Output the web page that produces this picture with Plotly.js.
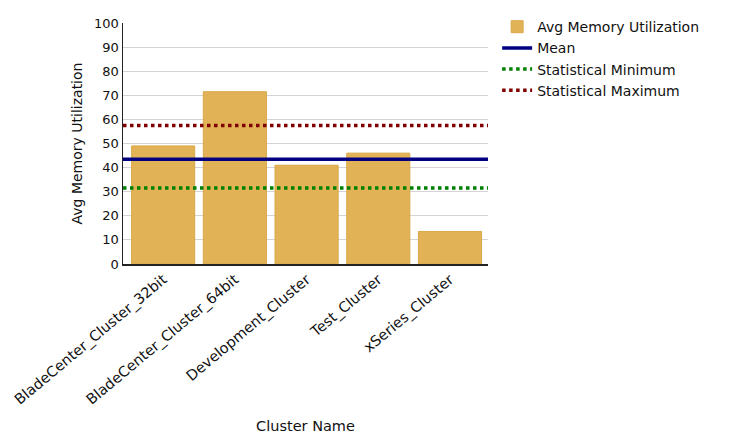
<!DOCTYPE html>
<html><head><meta charset="utf-8">
<script src="https://cdn.plot.ly/plotly-3.0.1.min.js"></script>
<style>body{margin:0;background:#fff}#c{width:731px;height:441px}</style>
</head><body><div id="c"></div>
<script>
const categories = ["BladeCenter_Cluster_32bit","BladeCenter_Cluster_64bit","Development_Cluster","Test_Cluster","xSeries_Cluster"];
const avgMemory = [49, 71.5, 41, 46, 13.5];
const meanValue = 43.5;
const statMin = 31.5;
const statMax = 57.5;
const yTicks = [0,10,20,30,40,50,60,70,80,90,100];

const font = "DejaVu Sans, Verdana, sans-serif";
const traces = [
  {type:'bar', x:categories, y:avgMemory, name:'Avg Memory Utilization',
   marker:{color:'#e2b356', line:{color:'#d9a847', width:1}}},
  {type:'scatter', mode:'lines', x:[0,1], y:[meanValue,meanValue], xaxis:'x2', name:'Mean',
   line:{color:'#000080', width:3.5}},
  {type:'scatter', mode:'lines', x:[0,1], y:[statMin,statMin], xaxis:'x2', name:'Statistical Minimum',
   line:{color:'#008000', width:3.5, dash:'dot'}},
  {type:'scatter', mode:'lines', x:[0,1], y:[statMax,statMax], xaxis:'x2', name:'Statistical Maximum',
   line:{color:'#800000', width:3.5, dash:'dot'}}
];
const layout = {
  width:731, height:441,
  margin:{l:123, r:243, t:22, b:177},
  paper_bgcolor:'#fff', plot_bgcolor:'#fff',
  font:{family:font, color:'#222', size:12},
  bargap:0.12,
  showlegend:true,
  legend:{x:1.025, y:1.045, xanchor:'left', yanchor:'top', font:{size:14, color:'#111'},
          tracegroupgap:0, itemwidth:30, bgcolor:'rgba(0,0,0,0)'},
  xaxis:{type:'category', range:[-0.56,4.53], tickangle:-40, tickfont:{size:14.5, color:'#111'},
         showline:true, linecolor:'#222', linewidth:1.5, ticks:'', showgrid:false,
         title:{text:'Cluster Name', font:{size:14.5, color:'#111'}, standoff:14}},
  xaxis2:{overlaying:'x', range:[0,1], visible:false},
  yaxis:{range:[0,100], tickvals:yTicks, tickfont:{size:13, color:'#111'},
         showline:true, linecolor:'#222', linewidth:1.5, gridcolor:'#d4d4d4', zeroline:false,
         ticks:'', ticklen:0,
         title:{text:'Avg Memory Utilization', font:{size:14, color:'#111'}, standoff:8}}
};
Plotly.newPlot('c', traces, layout, {displayModeBar:false, staticPlot:true});
</script></body></html>
